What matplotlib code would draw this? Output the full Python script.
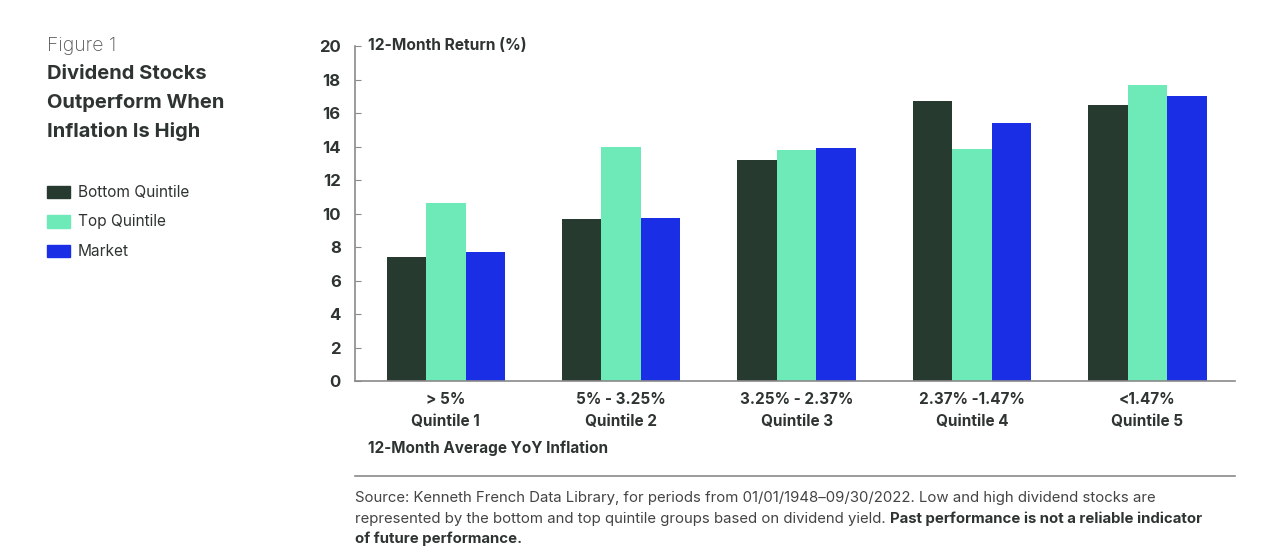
import numpy as np
import matplotlib.pyplot as plt

plt.rcParams['font.family'] = ['Inter', 'DejaVu Sans']

# data
ranges = ['> 5%', '5% - 3.25%', '3.25% - 2.37%', '2.37% -1.47%', '<1.47%']
quintiles = ['Quintile 1', 'Quintile 2', 'Quintile 3', 'Quintile 4', 'Quintile 5']
series_names = ['Bottom Quintile', 'Top Quintile', 'Market']
bottom_q = [7.4, 9.7, 13.2, 16.7, 16.5]
top_q = [10.6, 14.0, 13.8, 13.85, 17.7]
market = [7.7, 9.75, 13.9, 15.4, 17.0]

colors = ['#263a2f', '#6eeab8', '#1a2ee5']
text_dark = '#2e3431'
gray = '#8a8a8a'

fig = plt.figure(figsize=(12.8, 5.6), dpi=100)
ax = fig.add_axes([0.277, 0.3196, 0.688, 0.5982])

x = np.arange(len(ranges))
w = 0.225
for i, (vals, c) in enumerate(zip([bottom_q, top_q, market], colors)):
    ax.bar(x + (i - 1) * w, vals, width=w, color=c, label=series_names[i])

ax.set_xlim(-0.52, 4.5)
ax.set_ylim(0, 20)
ax.set_yticks(np.arange(0, 21, 2))
ax.set_xticks(x)
ax.set_xticklabels([f'{r}\n{q}' for r, q in zip(ranges, quintiles)],
                   fontsize=11, fontweight='bold', color=text_dark, linespacing=1.55)
ax.tick_params(axis='x', length=0, pad=8)
ax.tick_params(axis='y', direction='in', length=4, color=gray, pad=10,
               labelsize=12, labelcolor=text_dark)
for lab in ax.get_yticklabels():
    lab.set_fontweight('bold')
for s in ['top', 'right']:
    ax.spines[s].set_visible(False)
for s in ['left', 'bottom']:
    ax.spines[s].set_color(gray)
    ax.spines[s].set_linewidth(1.2)

fig.text(368 / 1280, 1 - 46 / 560, '12-Month Return (%)',
         fontsize=11.2, fontweight='bold', color=text_dark, va='center')
fig.text(368 / 1280, 1 - 448 / 560, '12-Month Average YoY Inflation',
         fontsize=11, fontweight='bold', color=text_dark, va='center')

# separator line
fig.add_artist(plt.Line2D([355 / 1280, 1235 / 1280], [1 - 476 / 560] * 2,
                          color=gray, lw=1.2, transform=fig.transFigure))

# left panel
fig.text(47 / 1280, 1 - 46 / 560, 'Figure 1', fontsize=14, fontweight='light',
         color='#555', va='center')
for k, line in enumerate(['Dividend Stocks', 'Outperform When', 'Inflation Is High']):
    fig.text(47 / 1280, 1 - (74 + 28.5 * k) / 560, line, fontsize=14.5,
             fontweight='bold', color=text_dark, va='center')

for k, (name, c) in enumerate(zip(series_names, colors)):
    yc = 1 - (192 + 29.5 * k) / 560
    fig.add_artist(plt.Rectangle((47 / 1280, yc - 6 / 560), 23 / 1280, 12 / 560,
                                 color=c, transform=fig.transFigure))
    fig.text(78 / 1280, yc, name, fontsize=11.1, color=text_dark, va='center')

# source note
fs = 10.75
fig.text(355 / 1280, 1 - 498 / 560,
         'Source: Kenneth French Data Library, for periods from 01/01/1948\u201309/30/2022. '
         'Low and high dividend stocks are',
         fontsize=fs, color='#444', va='center')
t1 = fig.text(355 / 1280, 1 - 519 / 560,
              'represented by the bottom and top quintile groups based on dividend yield. ',
              fontsize=fs, color='#444', va='center')
fig.canvas.draw()
bb = t1.get_window_extent(fig.canvas.get_renderer())
fig.text(bb.x1 / 1280, 1 - 519 / 560,
         'Past performance is not a reliable indicator',
         fontsize=fs, fontweight='bold', color=text_dark, va='center')
fig.text(355 / 1280, 1 - 539 / 560, 'of future performance.',
         fontsize=fs, fontweight='bold', color=text_dark, va='center')

fig.savefig('out.png', dpi=100)
